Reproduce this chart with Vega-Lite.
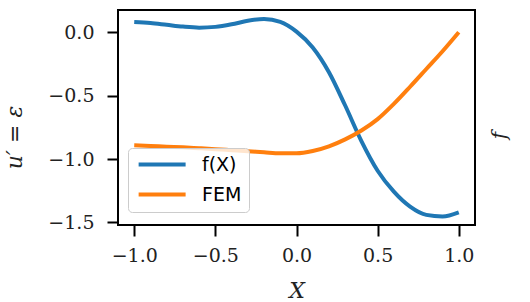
{
  "$schema": "https://vega.github.io/schema/vega-lite/v6.json",
  "width": 357,
  "height": 215,
  "autosize": "none",
  "padding": {"left": 118, "top": 10, "right": 55, "bottom": 77},
  "background": "white",
  "data": {
    "values": [
      {"x": -1.0, "y": 0.08, "series": "f(X)"},
      {"x": -0.9, "y": 0.072, "series": "f(X)"},
      {"x": -0.8, "y": 0.058, "series": "f(X)"},
      {"x": -0.7, "y": 0.044, "series": "f(X)"},
      {"x": -0.6, "y": 0.036, "series": "f(X)"},
      {"x": -0.5, "y": 0.042, "series": "f(X)"},
      {"x": -0.4, "y": 0.062, "series": "f(X)"},
      {"x": -0.3, "y": 0.09, "series": "f(X)"},
      {"x": -0.2, "y": 0.104, "series": "f(X)"},
      {"x": -0.1, "y": 0.082, "series": "f(X)"},
      {"x": 0.0, "y": 0.005, "series": "f(X)"},
      {"x": 0.1, "y": -0.12, "series": "f(X)"},
      {"x": 0.2, "y": -0.315, "series": "f(X)"},
      {"x": 0.3, "y": -0.578, "series": "f(X)"},
      {"x": 0.4, "y": -0.858, "series": "f(X)"},
      {"x": 0.5, "y": -1.092, "series": "f(X)"},
      {"x": 0.6, "y": -1.257, "series": "f(X)"},
      {"x": 0.7, "y": -1.375, "series": "f(X)"},
      {"x": 0.8, "y": -1.44, "series": "f(X)"},
      {"x": 0.9, "y": -1.452, "series": "f(X)"},
      {"x": 1.0, "y": -1.42, "series": "f(X)"},
      {"x": -1.0, "y": -0.892, "series": "FEM"},
      {"x": -0.9, "y": -0.897, "series": "FEM"},
      {"x": -0.8, "y": -0.903, "series": "FEM"},
      {"x": -0.7, "y": -0.908, "series": "FEM"},
      {"x": -0.6, "y": -0.915, "series": "FEM"},
      {"x": -0.5, "y": -0.922, "series": "FEM"},
      {"x": -0.4, "y": -0.93, "series": "FEM"},
      {"x": -0.3, "y": -0.938, "series": "FEM"},
      {"x": -0.2, "y": -0.947, "series": "FEM"},
      {"x": -0.1, "y": -0.955, "series": "FEM"},
      {"x": 0.0, "y": -0.955, "series": "FEM"},
      {"x": 0.1, "y": -0.937, "series": "FEM"},
      {"x": 0.2, "y": -0.9, "series": "FEM"},
      {"x": 0.3, "y": -0.845, "series": "FEM"},
      {"x": 0.4, "y": -0.775, "series": "FEM"},
      {"x": 0.5, "y": -0.685, "series": "FEM"},
      {"x": 0.6, "y": -0.565, "series": "FEM"},
      {"x": 0.7, "y": -0.43, "series": "FEM"},
      {"x": 0.8, "y": -0.29, "series": "FEM"},
      {"x": 0.9, "y": -0.150, "series": "FEM"},
      {"x": 1.0, "y": 0.0, "series": "FEM"}
    ]
  },
  "layer": [
    {
      "mark": {"type": "line", "strokeWidth": 4, "interpolate": "monotone", "clip": true},
      "encoding": {
        "x": {
          "field": "x", "type": "quantitative",
          "scale": {"domain": [-1.1, 1.1], "nice": false, "zero": false},
          "axis": {"values": [-1, -0.5, 0, 0.5, 1], "format": ".1f", "title": "X", "labelPadding": 10,
                   "titleFont": "DejaVu Serif", "titleFontStyle": "italic", "titleFontSize": 22, "titleFontWeight": "normal",
                   "titleY": 72, "titleBaseline": "alphabetic"}
        },
        "y": {
          "field": "y", "type": "quantitative",
          "scale": {"domain": [-1.52, 0.175], "nice": false, "zero": false},
          "axis": {"values": [-1.5, -1, -0.5, 0], "format": ".1f", "title": "u′ = ε", "labelPadding": 13,
                   "titleFont": "DejaVu Serif", "titleFontStyle": "italic", "titleFontSize": 22, "titleFontWeight": "normal",
                   "titleX": -92, "titleY": 127, "titleAngle": 270, "titleAlign": "center", "titleBaseline": "bottom"}
        },
        "color": {
          "field": "series", "type": "nominal",
          "scale": {"domain": ["f(X)", "FEM"], "range": ["#1f77b4", "#ff7f0e"]},
          "sort": ["f(X)", "FEM"],
          "legend": {
            "orient": "none", "legendX": 10, "legendY": 138, "title": null,
            "symbolType": "M-1,0H7", "symbolSize": 138, "symbolStrokeWidth": 4,
            "labelFont": "DejaVu Sans", "labelFontSize": 19, "labelColor": "#000", "labelOffset": 48,
            "fillColor": "rgba(255,255,255,0.8)", "strokeColor": "#cccccc", "cornerRadius": 4,
            "padding": 7, "rowPadding": 10
          }
        }
      }
    },
    {
      "mark": {"type": "point", "opacity": 0},
      "encoding": {
        "x": {"field": "x", "type": "quantitative"},
        "y": {
          "field": "y", "type": "quantitative",
          "scale": {"domain": [-1.52, 0.175], "nice": false, "zero": false},
          "axis": {"orient": "right", "title": "f", "labels": false, "ticks": false, "domain": false, "grid": false,
                   "titleFont": "DejaVu Serif", "titleFontStyle": "italic", "titleFontSize": 20, "titleFontWeight": "normal",
                   "titleX": 34, "titleY": 125, "titleAngle": 270, "titleAlign": "center", "titleBaseline": "bottom"}
        }
      }
    }
  ],
  "resolve": {"scale": {"y": "independent"}},
  "config": {
    "view": {"stroke": "#000", "strokeWidth": 2},
    "axis": {
      "grid": false, "domain": false,
      "tickColor": "#000", "tickWidth": 2, "tickSize": 11,
      "labelFont": "DejaVu Serif", "labelFontSize": 19, "labelColor": "#222",
      "titleColor": "#222"
    }
  }
}
